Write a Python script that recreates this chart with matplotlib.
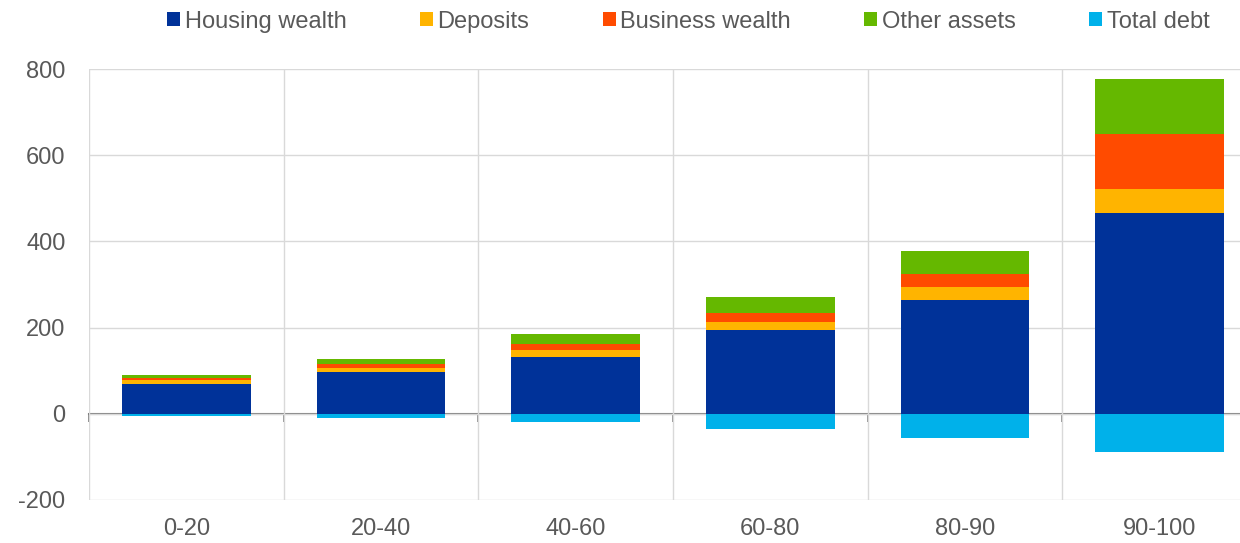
"""
Stacked wealth composition by net-wealth percentile group.
"""

import matplotlib.pyplot as plt
import numpy as np

plt.rcParams["font.family"] = ["Liberation Sans", "DejaVu Sans"]
plt.rcParams["axes.unicode_minus"] = False

# data
groups = ["0-20", "20-40", "40-60", "60-80", "80-90", "90-100"]
housing = [70, 97, 131, 194, 263, 465]
deposits = [9, 9, 17, 20, 32, 57]
business = [3, 9, 15, 19, 30, 128]
other_assets = [9, 12, 23, 38, 53, 127]
total_debt = [-5, -10, -20, -35, -56, -88]

PALETTE = {
    "Housing wealth": "#003299",
    "Deposits": "#ffb400",
    "Business wealth": "#ff4b00",
    "Other assets": "#65b800",
    "Total debt": "#00b1ea",
}
TEXT = "#595959"
GRID = "#d9d9d9"

fig = plt.figure(figsize=(12.4, 5.43), dpi=100)
ax = fig.add_axes([89 / 1240, 43 / 543, 1168 / 1240, 431 / 543])

x = np.arange(len(groups))
w = 0.66
bottom = np.zeros(len(groups))
for name, vals in [("Housing wealth", housing), ("Deposits", deposits),
                   ("Business wealth", business), ("Other assets", other_assets)]:
    ax.bar(x, vals, w, bottom=bottom, color=PALETTE[name], label=name, zorder=2)
    bottom += np.array(vals)
ax.bar(x, total_debt, w, color=PALETTE["Total debt"], label="Total debt", zorder=2)

ax.set_xlim(-0.5, len(groups) - 0.5)
ax.set_ylim(-200, 800)
ax.set_yticks([-200, 0, 200, 400, 600, 800])
ax.set_xticks(x)
ax.set_xticklabels(groups)
ax.set_xticks(np.arange(len(groups) + 1) - 0.5, minor=True)
ax.tick_params(axis="x", which="both", length=0, labelsize=17, colors=TEXT, pad=13)
ax.tick_params(axis="y", length=0, labelsize=17, colors=TEXT, pad=17)
ax.grid(axis="y", color=GRID, lw=1, zorder=0)
ax.grid(axis="x", which="minor", color=GRID, lw=1, zorder=0)
for s in ax.spines.values():
    s.set_visible(False)

# zero line with category boundary ticks
sec = ax.secondary_xaxis(0.2)
sec.set_xticks([])
sec.set_xticks(np.arange(len(groups) + 1) - 0.5, minor=True)
sec.tick_params(which="minor", length=6, width=1.2, color="#7f7f7f", direction="out")
sec.spines["bottom"].set_color("#7f7f7f")
sec.spines["bottom"].set_linewidth(1.5)
sec.spines["bottom"].set_zorder(3)

fig.legend(loc="center", bbox_to_anchor=(0.555, 0.96), ncol=5, frameon=False,
           fontsize=17, labelcolor=TEXT, handlelength=0.55, handleheight=0.55,
           handletextpad=0.2, columnspacing=3.1)

fig.savefig("out.png", dpi=100)
